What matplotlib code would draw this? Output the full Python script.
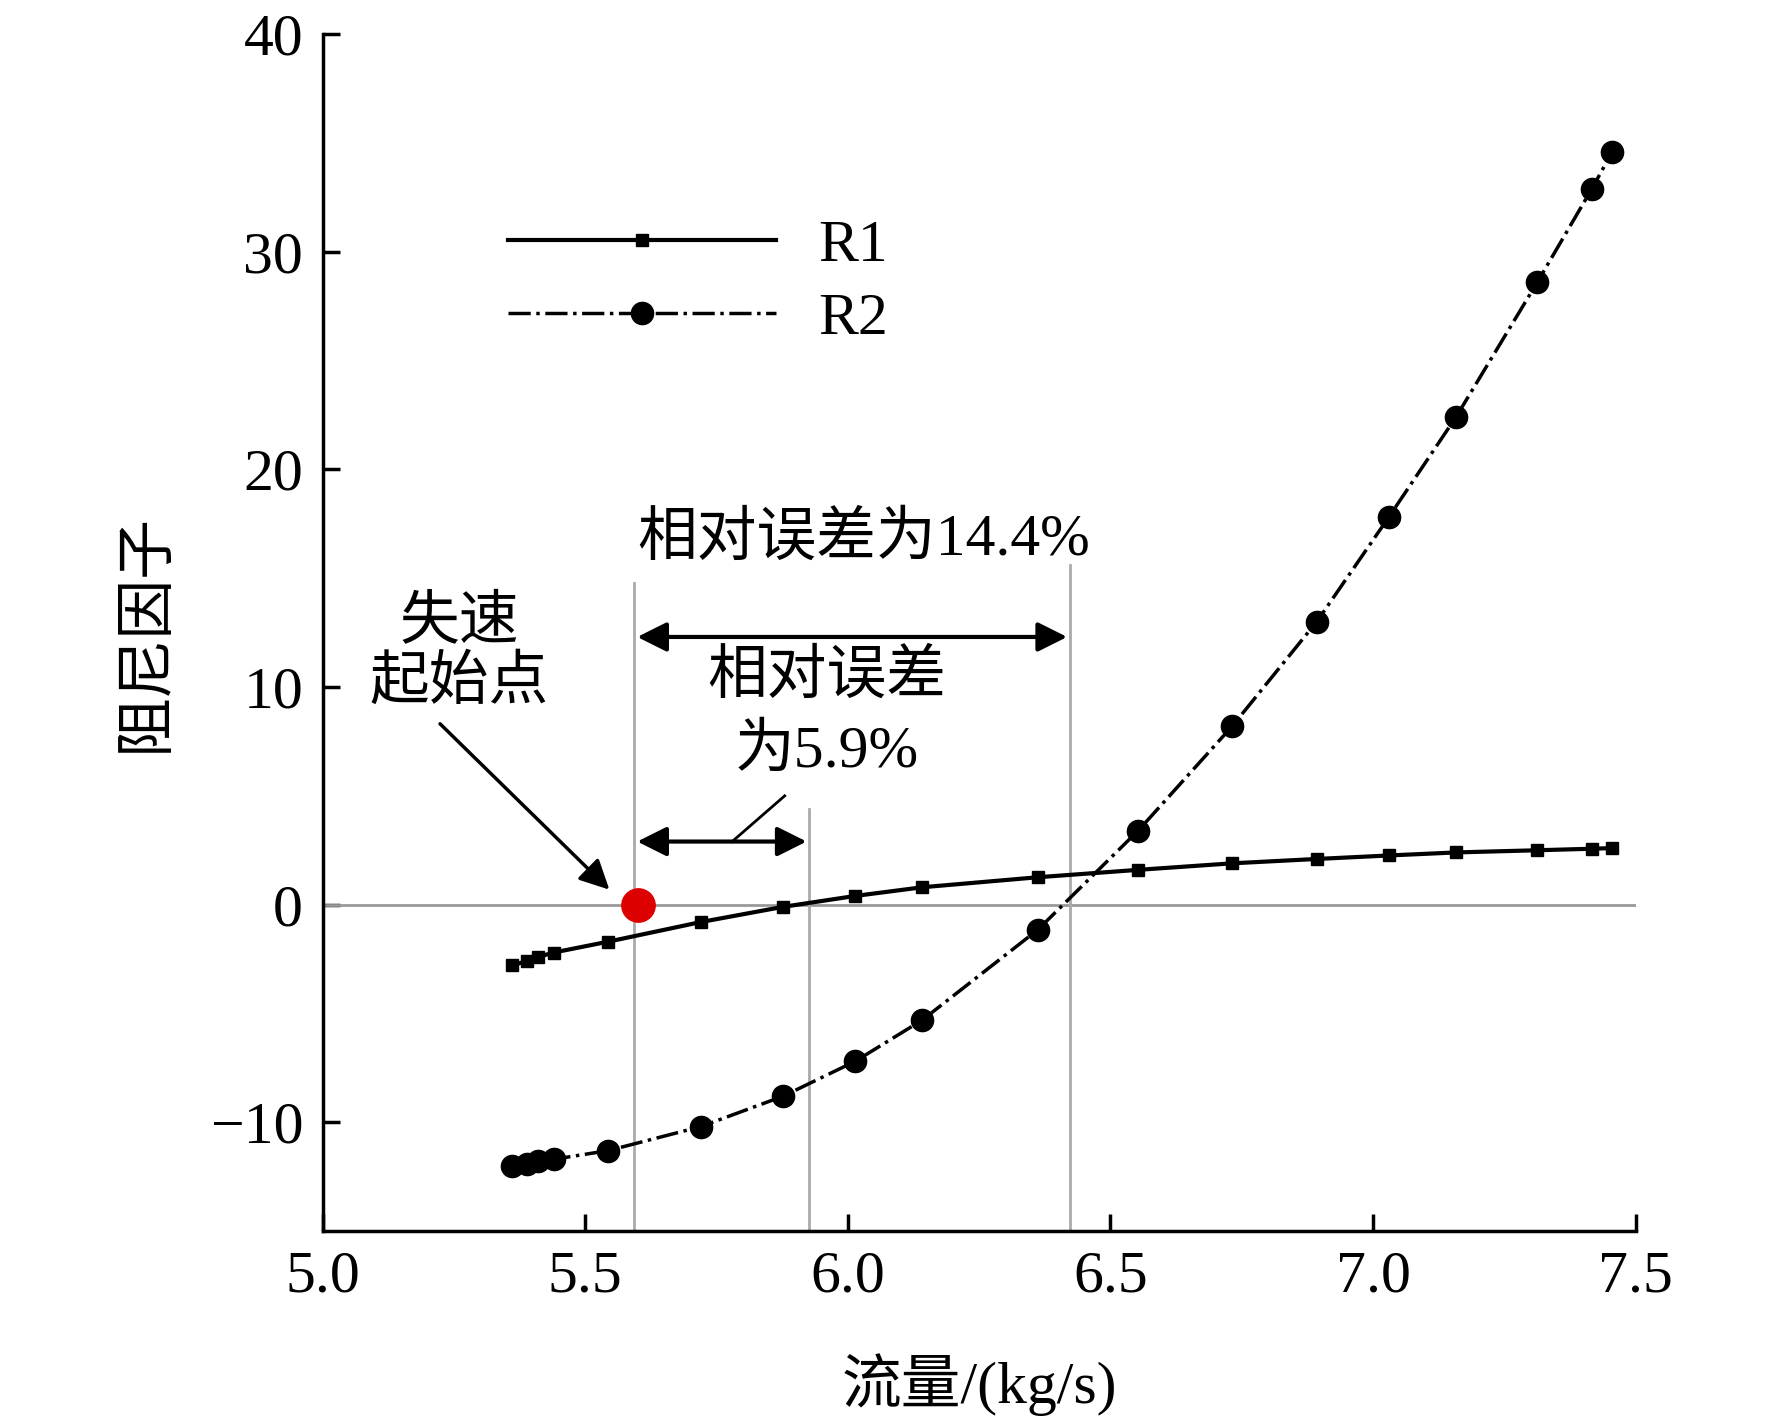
import matplotlib.pyplot as plt

plt.rcParams['font.family'] = ['Liberation Serif', 'Noto Sans CJK SC']
plt.rcParams['axes.unicode_minus'] = True

# 读图数据
flow = [5.361, 5.389, 5.411, 5.44, 5.544, 5.72, 5.877, 6.014, 6.142, 6.362,
        6.553, 6.732, 6.893, 7.03, 7.158, 7.313, 7.417, 7.456]
r1 = [-2.78, -2.6, -2.4, -2.2, -1.7, -0.8, -0.1, 0.4, 0.8, 1.26,
      1.6, 1.9, 2.1, 2.26, 2.4, 2.5, 2.57, 2.6]
r2 = [-12.0, -11.9, -11.8, -11.7, -11.3, -10.2, -8.8, -7.2, -5.3, -1.15,
      3.4, 8.2, 13.0, 17.8, 22.4, 28.6, 32.9, 34.6]
vlines = [(5.594, 14.8), (5.927, 4.4), (6.423, 15.6)]
stall = (5.6, 0.0)

fig = plt.figure(figsize=(17.72, 14.2), dpi=100)
ax = fig.add_axes([0.182, 0.133, 0.741, 0.843])

ax.axhline(0, color='#999999', lw=2)
for x, top in vlines:
    ax.plot([x, x], [-15, top], color='#aaaaaa', lw=2)

ax.plot(flow, r1, '-', color='black', lw=3, marker='s', ms=8, label='R1')
ax.plot(flow, r2, '-.', color='black', lw=2.5, marker='o', ms=16, label='R2')
ax.plot(*stall, 'o', color='#dd0000', ms=24, zorder=5)

arr = dict(arrowstyle='<|-|>', color='black', lw=3, mutation_scale=45)
ax.annotate('', xy=(5.594, 12.3), xytext=(6.423, 12.3), arrowprops=arr)
ax.annotate('', xy=(5.594, 2.9), xytext=(5.927, 2.9), arrowprops=arr)
ax.annotate('', xy=(5.55, 0.6), xytext=(5.22, 8.4),
            arrowprops=dict(arrowstyle='-|>', color='black', lw=2.5, mutation_scale=45))
ax.plot([5.78, 5.88], [2.9, 5.0], color='black', lw=2)

fs = 43
ax.text(6.03, 15.5, '相对误差为14.4%', fontsize=fs, ha='center', va='bottom')
ax.text(5.26, 11.5, '失速\n起始点', fontsize=fs, ha='center', va='center', linespacing=1.1)
ax.text(5.96, 10.4, '相对误差', fontsize=fs, ha='center', va='center')
ax.text(5.96, 7.0, '为5.9%', fontsize=fs, ha='center', va='center')

ax.legend(loc='upper left', bbox_to_anchor=(0.1, 0.89), frameon=False, fontsize=fs,
          handlelength=4.5, handletextpad=0.7, labelspacing=0.3)

ax.set_xlim(5.0, 7.5)
ax.set_ylim(-15, 40)
ax.set_xticks([5.0, 5.5, 6.0, 6.5, 7.0, 7.5])
ax.set_xticklabels(['5.0', '5.5', '6.0', '6.5', '7.0', '7.5'])
ax.set_yticks([-10, 0, 10, 20, 30, 40])
ax.spines['top'].set_visible(False)
ax.spines['right'].set_visible(False)
for s in ('left', 'bottom'):
    ax.spines[s].set_linewidth(2.5)
ax.tick_params(direction='in', length=12, width=2.5, labelsize=fs, pad=14)
ax.set_xlabel('流量/(kg/s)', fontsize=fs, labelpad=35)
ax.set_ylabel('阻尼因子', fontsize=fs, labelpad=25)

fig.savefig('out.png')
